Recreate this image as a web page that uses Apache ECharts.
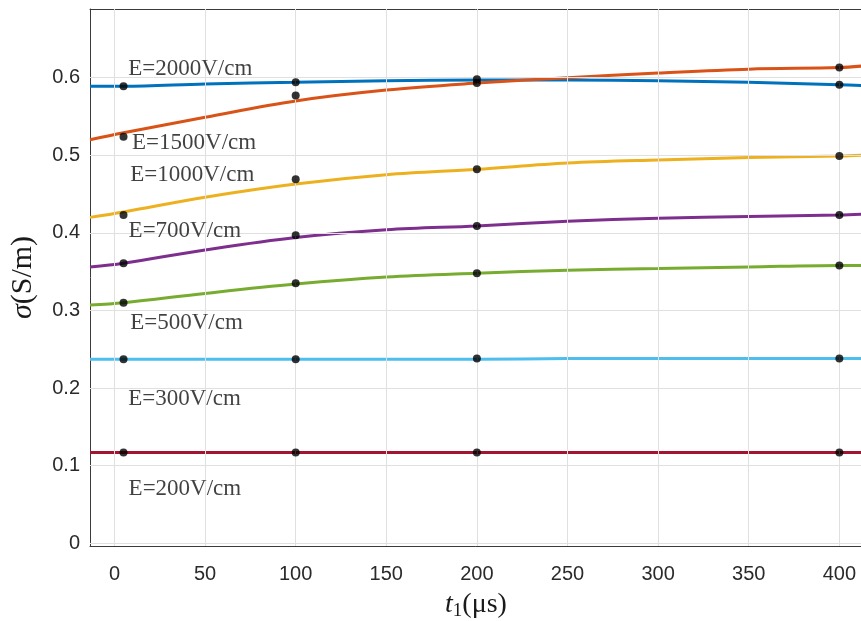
<!DOCTYPE html>
<html>
<head>
<meta charset="utf-8">
<script src="https://cdn.jsdelivr.net/npm/echarts@6/dist/echarts.min.js"></script>
<style>
html,body{margin:0;padding:0;background:#fff;}
#c{width:861px;height:621px;}
</style>
</head>
<body>
<div id="c"></div>
<script>
// ---- data ----
const seriesNames = ['E=2000V/cm','E=1500V/cm','E=1000V/cm','E=700V/cm','E=500V/cm','E=300V/cm','E=200V/cm'];
const measuredT = [5, 100, 200, 400];
const measured2000 = [0.589, 0.594, 0.598, 0.591];
const measured1500 = [0.524, 0.577, 0.593, 0.613];
const measured1000 = [0.423, 0.469, 0.482, 0.499];
const measured700  = [0.361, 0.397, 0.409, 0.423];
const measured500  = [0.310, 0.335, 0.348, 0.358];
const measured300  = [0.237, 0.237, 0.238, 0.238];
const measured200  = [0.117, 0.117, 0.117, 0.117];

const fitT = [-13.5, 5, 50, 100, 150, 200, 250, 300, 350, 400, 412.5];
const fit2000 = [0.589, 0.589, 0.592, 0.594, 0.596, 0.597, 0.597, 0.596, 0.594, 0.591, 0.590];
const fit1500 = [0.520, 0.529, 0.549, 0.570, 0.584, 0.593, 0.600, 0.606, 0.611, 0.613, 0.615];
const fit1000 = [0.420, 0.427, 0.446, 0.463, 0.475, 0.482, 0.490, 0.494, 0.497, 0.499, 0.500];
const fit700  = [0.356, 0.361, 0.378, 0.394, 0.404, 0.409, 0.415, 0.419, 0.421, 0.423, 0.424];
const fit500  = [0.307, 0.310, 0.322, 0.334, 0.343, 0.348, 0.352, 0.354, 0.356, 0.358, 0.358];
const fit300  = [0.237, 0.237, 0.237, 0.237, 0.237, 0.237, 0.238, 0.238, 0.238, 0.238, 0.238];
const fit200  = [0.117, 0.117, 0.117, 0.117, 0.117, 0.117, 0.117, 0.117, 0.117, 0.117, 0.117];

// annotation anchors (data coordinates) for the text labels
const labelT = [7.6, 9.7, 8.7, 7.8, 8.7, 7.6, 7.8];
const labelSigma = [0.611, 0.516, 0.475, 0.402, 0.2835, 0.1856, 0.0696];

const xTicks = [0, 50, 100, 150, 200, 250, 300, 350, 400];
const yTicks = [0, 0.1, 0.2, 0.3, 0.4, 0.5, 0.6];
const xRange = [-13.5, 412.5];
const yRange = [-0.0035, 0.6885];

// ---- build ----
const colors = ['#0072BD','#D95319','#EDB120','#7E2F8E','#77AC30','#4DBEEE','#A2142F'];
const fits = [fit2000, fit1500, fit1000, fit700, fit500, fit300, fit200];
const meas = [measured2000, measured1500, measured1000, measured700, measured500, measured300, measured200];
const axisCol = '#3a3a3a';
const gridCol = '#e0e0e0';

const series = [];
// grid lines drawn at tick values through the axes' scales
series.push({
  type: 'line', data: [], silent: true, z: 1,
  markLine: {
    silent: true, symbol: 'none', animation: false,
    label: {show: false},
    lineStyle: {color: gridCol, width: 1, type: 'solid'},
    data: xTicks.map(v => ({xAxis: v})).concat(yTicks.map(v => ({yAxis: v})))
  }
});
fits.forEach((f, i) => {
  series.push({
    type: 'line', name: seriesNames[i], smooth: 0.35, symbol: 'none', z: 3,
    lineStyle: {color: colors[i], width: 3},
    data: fitT.map((t, k) => [t, f[k]])
  });
});
meas.forEach((m, i) => {
  series.push({
    type: 'scatter', name: seriesNames[i] + ' data', symbolSize: 8, z: 5,
    itemStyle: {color: '#000'},
    data: measuredT.map((t, k) => [t, m[k]])
  });
});
series.push({
  type: 'scatter', symbolSize: 0, z: 6, silent: true,
  data: labelT.map((t, i) => ({value: [t, labelSigma[i]], name: seriesNames[i]})),
  label: {
    show: true, position: 'right', distance: 0, formatter: p => p.name,
    fontFamily: '"Liberation Serif","Times New Roman",serif', fontSize: 23, color: '#111'
  }
});

const tickCommon = {show: true, inside: true, length: 6, lineStyle: {color: axisCol}};

const option = {
  animation: false,
  grid: {left: 90, width: 772, top: 9, bottom: 75, containLabel: false, outerBoundsMode: 'none'},
  xAxis: [{
    type: 'value', min: xRange[0], max: xRange[1],
    name: '{t|t}{s|1}{n|(μs)}', nameLocation: 'middle', nameGap: 43,
    nameTextStyle: {
      rich: {
        t: {fontFamily: '"Liberation Serif",serif', fontStyle: 'italic', fontSize: 28, color: '#1a1a1a'},
        s: {fontFamily: '"Liberation Serif",serif', fontSize: 19, color: '#1a1a1a', padding: [13, 0, 0, 0]},
        n: {fontFamily: '"Liberation Serif",serif', fontSize: 28, color: '#1a1a1a'}
      }
    },
    axisLine: {show: true, onZero: false, lineStyle: {color: axisCol, width: 1}},
    axisTick: Object.assign({customValues: xTicks}, tickCommon),
    axisLabel: {
      customValues: xTicks,
      margin: 18, fontSize: 20, color: '#2a2a2a', fontFamily: '"Liberation Sans",Arial,sans-serif'
    },
    splitLine: {show: false}
  }, {
    type: 'value', position: 'top', min: xRange[0], max: xRange[1],
    axisLine: {show: true, onZero: false, lineStyle: {color: axisCol, width: 1}},
    axisTick: Object.assign({customValues: xTicks}, tickCommon),
    axisLabel: {show: false}, splitLine: {show: false}
  }],
  yAxis: [{
    type: 'value', min: yRange[0], max: yRange[1],
    name: '{g|σ}{n|(S/m)}', nameLocation: 'middle', nameRotate: 90, nameGap: 52,
    nameTextStyle: {
      rich: {
        g: {fontFamily: '"Liberation Serif",serif', fontStyle: 'italic', fontSize: 30, color: '#1a1a1a'},
        n: {fontFamily: '"Liberation Serif",serif', fontSize: 30, color: '#1a1a1a'}
      }
    },
    axisLine: {show: true, onZero: false, lineStyle: {color: axisCol, width: 1}},
    axisTick: Object.assign({customValues: yTicks}, tickCommon),
    axisLabel: {
      customValues: yTicks,
      margin: 10, fontSize: 20, color: '#2a2a2a', fontFamily: '"Liberation Sans",Arial,sans-serif',
      formatter: v => (Math.abs(v) < 1e-9 ? '0' : (+v).toFixed(1))
    },
    splitLine: {show: false}
  }, {
    type: 'value', position: 'right', min: yRange[0], max: yRange[1],
    axisLine: {show: true, onZero: false, lineStyle: {color: axisCol, width: 1}},
    axisTick: Object.assign({customValues: yTicks}, tickCommon),
    axisLabel: {show: false}, splitLine: {show: false}
  }],
  series: series
};

const chart = echarts.init(document.getElementById('c'), null, {renderer: 'canvas'});
chart.setOption(option);
</script>
</body>
</html>
